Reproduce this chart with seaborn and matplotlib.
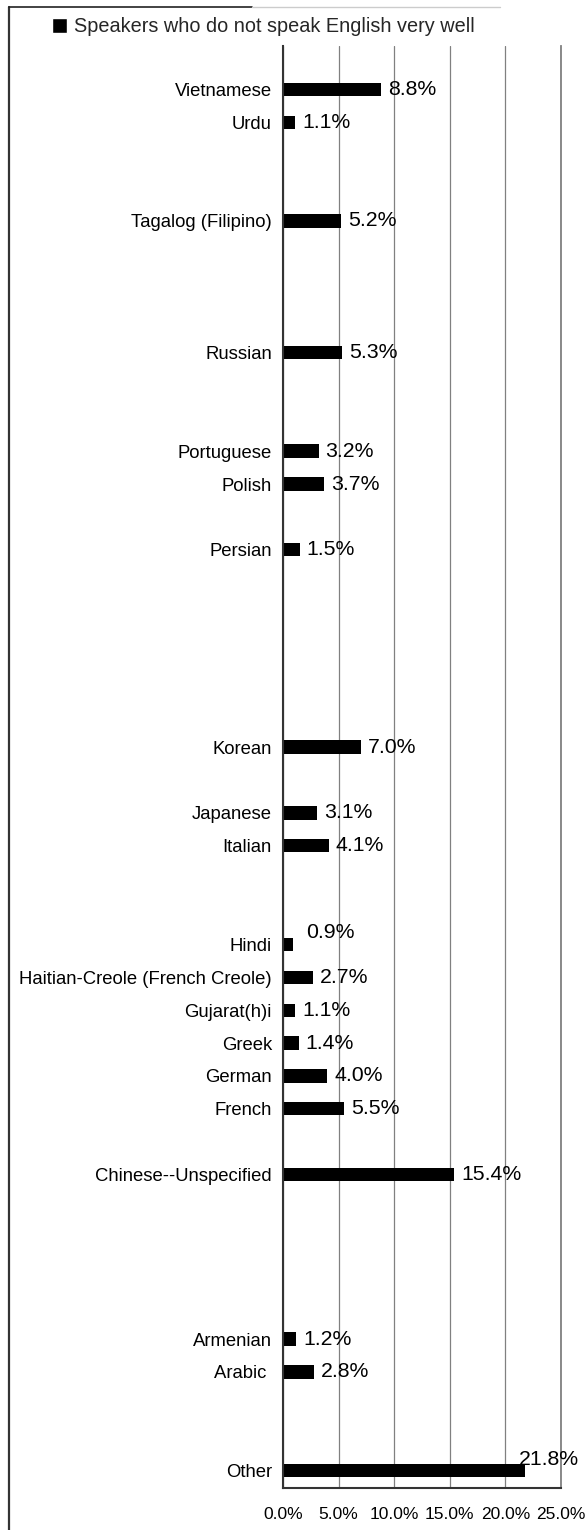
import matplotlib
matplotlib.use("Agg")
import matplotlib.pyplot as plt
from matplotlib.lines import Line2D
from matplotlib.patches import Patch
from matplotlib.ticker import FuncFormatter
import pandas as pd
import seaborn as sns

# one entry per row of the sheet, top to bottom; None marks an empty row
LANGUAGES = [
    "Vietnamese", "Urdu", None, None, "Tagalog (Filipino)", None, None, None,
    "Russian", None, None, "Portuguese", "Polish", None, "Persian",
    None, None, None, None, None, "Korean", None, "Japanese", "Italian",
    None, None, "Hindi", "Haitian-Creole (French Creole)", "Gujarat(h)i",
    "Greek", "German", "French", None, "Chinese--Unspecified",
    None, None, None, None, "Armenian", "Arabic ", None, None, "Other",
]
PCT_NOT_VERY_WELL = [
    8.8, 1.1, None, None, 5.2, None, None, None,
    5.3, None, None, 3.2, 3.7, None, 1.5,
    None, None, None, None, None, 7.0, None, 3.1, 4.1,
    None, None, 0.9, 2.7, 1.1,
    1.4, 4.0, 5.5, None, 15.4,
    None, None, None, None, 1.2, 2.8, None, None, 21.8,
]
X_TICKS = [0, 5, 10, 15, 20, 25]
LEGEND_LABEL = "Speakers who do not speak English very well"

# labels that were dragged off their bar in the original (pixels right, up)
LABEL_NUDGE = {"Hindi": (6, 12), "Other": (-14, 11)}

FONT = ["Liberation Sans", "DejaVu Sans"]
W, H = 587, 1530

sns.set_theme(style="white")
plt.rcParams["font.family"] = FONT

df = pd.DataFrame({"language": LANGUAGES, "pct": PCT_NOT_VERY_WELL})
df["slot"] = range(len(df))
bars = df.dropna().reset_index(drop=True)

fig, ax = plt.subplots(figsize=(W / 100, H / 100), dpi=100)
fig.subplots_adjust(left=283 / W, right=561 / W,
                    top=1 - 46 / H, bottom=1 - 1488 / H)

sns.barplot(data=bars, x="pct", y="slot", orient="h", native_scale=True,
            width=0.405, color="black", saturation=1, errorbar=None,
            linewidth=0, ax=ax)

ax.set_xlim(0, 25)
ax.set_ylim(42.53, -1.32)
ax.set_xticks(X_TICKS)
ax.xaxis.set_major_formatter(FuncFormatter(lambda v, _: f"{v:.1f}%"))
ax.set_yticks(bars["slot"])
ax.set_yticklabels(bars["language"])
ax.set_xlabel("")
ax.set_ylabel("")
ax.tick_params(axis="both", length=0)
ax.tick_params(axis="y", pad=8, labelsize=13.3, labelcolor="black")
ax.tick_params(axis="x", pad=14, labelsize=12.5, labelcolor="black")

ax.xaxis.grid(True, color="#808080", linewidth=0.9)
ax.yaxis.grid(False)
ax.set_axisbelow(True)
for side in ["left", "bottom"]:
    ax.spines[side].set_color("#333333")
    ax.spines[side].set_linewidth(1.5)
ax.spines["top"].set_visible(False)
ax.spines["right"].set_color("#808080")
ax.spines["right"].set_linewidth(1.3)

for row in bars.itertuples(index=False):
    dx, dy = LABEL_NUDGE.get(row.language, (0, 0))
    ax.annotate(f"{row.pct:.1f}%", xy=(row.pct, row.slot),
                xytext=(7 + dx, dy), textcoords="offset pixels",
                ha="left", va="center", fontsize=15.3, color="black")

ax.legend(handles=[Patch(facecolor="black", label=LEGEND_LABEL)],
          loc="center", bbox_to_anchor=(263.5 / W, 1 - 27 / H),
          bbox_transform=fig.transFigure, frameon=False, fontsize=14.3,
          handlelength=0.75, handleheight=0.75, handletextpad=0.35,
          borderaxespad=0, borderpad=0)

# chart border (only the left and top edges survive in the crop)
fig.add_artist(Line2D([8.5 / W, 8.5 / W], [1 - 7 / H, 0],
                      transform=fig.transFigure, color="#333333", lw=1.6))
fig.add_artist(Line2D([8.5 / W, 252 / W], [1 - 7 / H, 1 - 7 / H],
                      transform=fig.transFigure, color="#222222", lw=1.2))
fig.add_artist(Line2D([252 / W, 500 / W], [1 - 7 / H, 1 - 7 / H],
                      transform=fig.transFigure, color="#cccccc", lw=1.0))

fig.savefig("out.png", dpi=100)
